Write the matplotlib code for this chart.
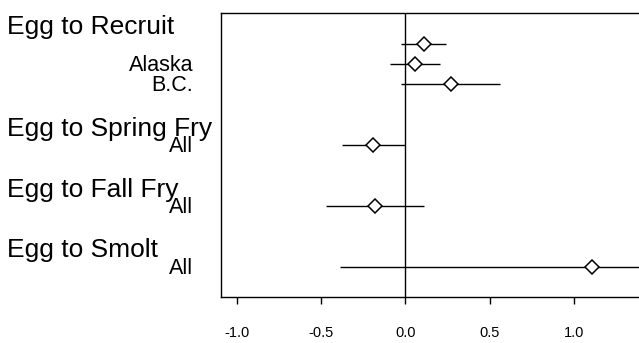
import matplotlib.pyplot as plt
import matplotlib.transforms as transforms

plt.rcParams['font.family'] = ['Liberation Sans', 'DejaVu Sans']

# groups and rows of the forest plot
groups = ["Egg to Recruit", "Egg to Spring Fry", "Egg to Fall Fry", "Egg to Smolt"]
row_group = [0, 0, 0, 1, 2, 3]
row_labels = ["", "Alaska", "B.C.", "All", "All", "All"]
estimate = [0.11, 0.057, 0.27, -0.19, -0.178, 1.105]
lower = [-0.025, -0.092, -0.025, -0.378, -0.47, -0.39]
upper = [0.24, 0.205, 0.56, 0.0, 0.11, 1.50]
xticks = [-1.0, -0.5, 0.0, 0.5, 1.0]

# row positions: 1 unit within a group, 3 units between groups
pos = []
y = 0
for i, g in enumerate(row_group):
    if i > 0:
        y += 1 if g == row_group[i - 1] else 3
    pos.append(y)

fig = plt.figure(figsize=(6.39, 3.43), dpi=100)
ax = fig.add_axes([221 / 639, 46 / 343, 1.02 - 221 / 639, 284 / 343])

for p, e, lo, hi in zip(pos, estimate, lower, upper):
    ax.plot([lo, hi], [p, p], color='k', lw=1, solid_capstyle='butt', zorder=2)
    ax.plot(e, p, marker='D', ms=7, mfc='white', mec='k', mew=1.1, zorder=3)

ax.axvline(0, color='k', lw=1, zorder=1)

ax.set_xlim(-1.093, 1.46)
ax.set_ylim(12.48, -1.51)
ax.set_yticks([])
ax.set_xticks(xticks)
ax.set_xticklabels([f"{t:.1f}" for t in xticks], fontsize=10.5)
ax.tick_params(axis='x', length=5, width=1, pad=16, direction='out')
ax.spines['right'].set_visible(False)
for s in ['left', 'top', 'bottom']:
    ax.spines[s].set_linewidth(1)

# labels on the left
tr = transforms.blended_transform_factory(fig.transFigure, ax.transData)
for gi, g in enumerate(groups):
    first = pos[row_group.index(gi)]
    fig.text(7 / 639, first - 0.47, g, transform=tr, ha='left', va='baseline',
             fontsize=19)
for p, lab in zip(pos, row_labels):
    if lab:
        fig.text(193 / 639, p + 0.35, lab, transform=tr, ha='right',
                 va='baseline', fontsize=15.5)

fig.savefig("out.png", dpi=100)
